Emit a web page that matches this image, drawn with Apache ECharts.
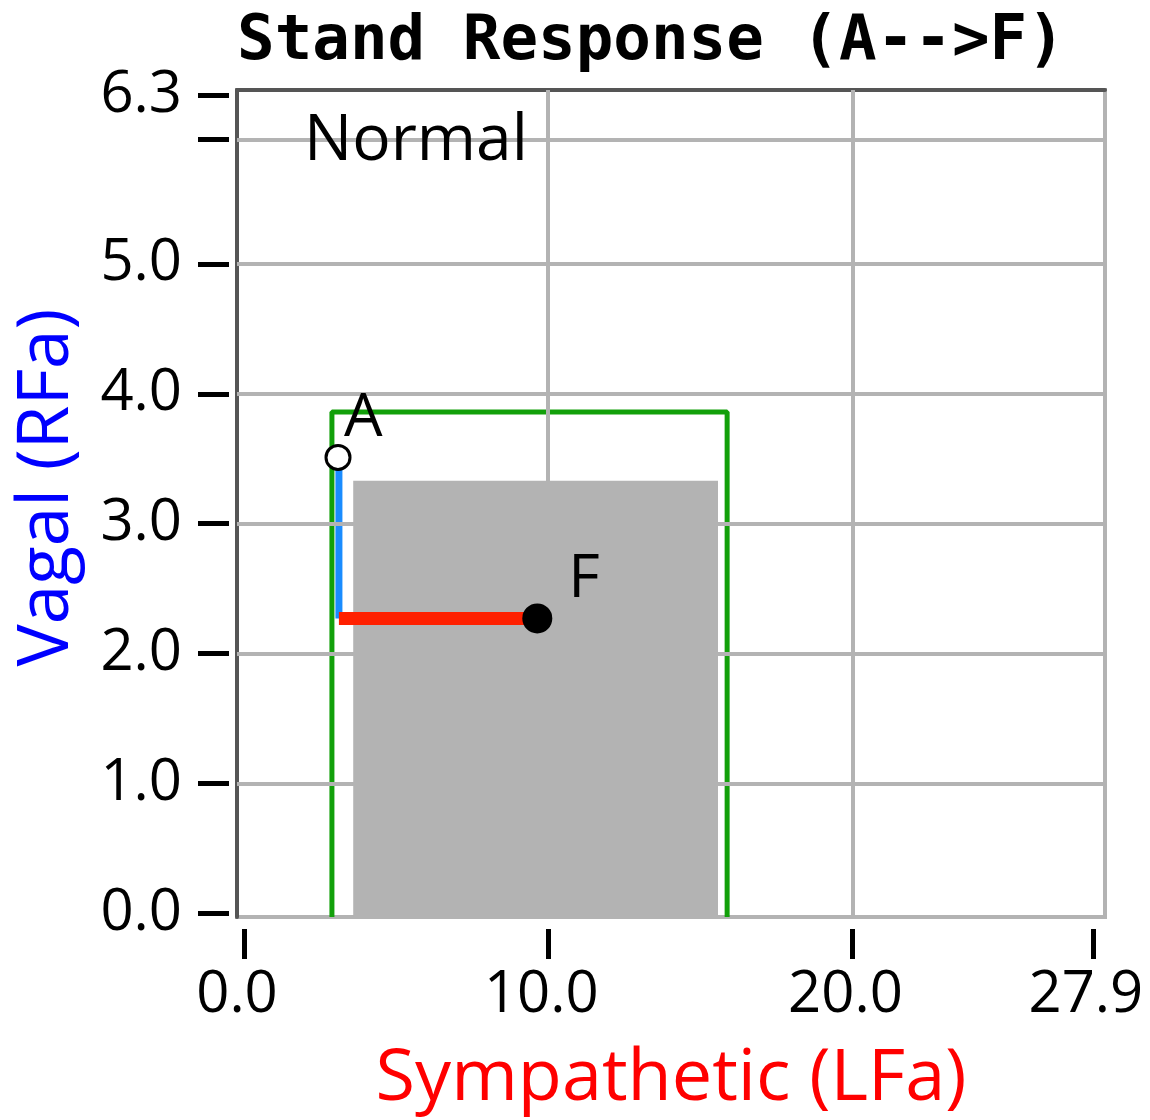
<!DOCTYPE html>
<html>
<head>
<meta charset="utf-8">
<script src="https://cdn.jsdelivr.net/npm/echarts@6/dist/echarts.min.js"></script>
<style>
html,body{margin:0;padding:0;background:#fff;}
#chart{width:1150px;height:1120px;}
</style>
</head>
<body>
<div id="chart"></div>
<script>
// ---- data ----
const xTicks = [0, 10, 20, 27.9];
const yTicks = [0, 1, 2, 3, 4, 5, 5.96, 6.3];
const yLabels = [0, 1, 2, 3, 4, 5, 6.3];
const xGrid = [10, 20];
const yGrid = [1, 2, 3, 4, 5, 5.96];
const grayBox = [[3.59, -0.03], [15.58, 3.33]];
const greenBox = [[2.89, -0.03], [2.89, 3.86], [15.88, 3.86], [15.88, -0.03]];
const pointA = [3.09, 3.51];
const pointF = [9.64, 2.27];
const vagalPath = [[3.12, 3.51], [3.12, 2.27]];
const sympPath = [[3.12, 2.27], [9.64, 2.27]];
const xRange = [-0.23, 28.3];
const yRange = [-0.03, 6.34];

const chart = echarts.init(document.getElementById('chart'));
const sans = '"Open Sans", "Noto Sans", sans-serif';
const hidden = {axisLine: {show: false}, axisTick: {show: false}, axisLabel: {show: false}, splitLine: {show: false}};
const option = {
  animation: false,
  backgroundColor: '#fff',
  title: {
    text: 'Stand Response (A-->F)',
    left: 232, top: 6,
    textStyle: {fontFamily: '"DejaVu Sans Mono", monospace', fontWeight: 'bold', fontSize: 62.5, color: '#000'}
  },
  grid: [
    {left: 237, right: 45, top: 90, bottom: 203, show: true, borderColor: '#b3b3b3', borderWidth: 4, backgroundColor: 'transparent'},
    {left: 229, right: 45, top: 90, bottom: 203, show: false},
    {left: 237, right: 45, top: 90, bottom: 191, show: false}
  ],
  xAxis: [
    Object.assign({type: 'value', min: xRange[0], max: xRange[1], gridIndex: 0, position: 'top'}, hidden,
      {axisLine: {show: true, onZero: false, lineStyle: {color: '#555', width: 4}}}),
    Object.assign({type: 'value', min: xRange[0], max: xRange[1], gridIndex: 1}, hidden),
    {
      type: 'value', min: xRange[0], max: xRange[1], gridIndex: 2, position: 'bottom',
      name: 'Sympathetic (LFa)', nameLocation: 'middle', nameGap: 114,
      nameTextStyle: {color: '#ff0000', fontSize: 72, fontFamily: sans},
      axisLine: {show: false, onZero: false},
      axisTick: {show: true, customValues: xTicks, length: 30, lineStyle: {color: '#000', width: 5}},
      axisLabel: {customValues: xTicks, formatter: v => v.toFixed(1), color: '#000', fontSize: 58, fontFamily: sans, margin: 37, padding: [0, 14, 0, 0]},
      splitLine: {show: false}
    }
  ],
  yAxis: [
    Object.assign({type: 'value', min: yRange[0], max: yRange[1], gridIndex: 0, position: 'left'}, hidden,
      {axisLine: {show: true, onZero: false, lineStyle: {color: '#555', width: 4}}}),
    {
      type: 'value', min: yRange[0], max: yRange[1], gridIndex: 1, position: 'left',
      name: 'Vagal (RFa)', nameLocation: 'middle', nameGap: 146, nameRotate: 90,
      nameTextStyle: {color: '#0000ff', fontSize: 71, fontFamily: sans, padding: [0, 0, 0, 32]},
      axisLine: {show: false, onZero: false},
      axisTick: {show: true, customValues: yTicks, length: 31, lineStyle: {color: '#000', width: 5}},
      axisLabel: {customValues: yLabels, formatter: v => v.toFixed(1), color: '#000', fontSize: 58, fontFamily: sans, margin: 47},
      splitLine: {show: false}
    },
    Object.assign({type: 'value', min: yRange[0], max: yRange[1], gridIndex: 2}, hidden)
  ],
  graphic: [
    {type: 'text', left: 304, top: 110, z: 50, style: {text: 'Normal', fontSize: 64, fontFamily: sans, fill: '#000'}}
  ],
  series: [
    {
      type: 'line', data: [], z: 1, silent: true,
      markLine: {
        silent: true, symbol: 'none', animation: false,
        label: {show: false},
        lineStyle: {color: '#b3b3b3', width: 4, type: 'solid'},
        data: xGrid.map(v => ({xAxis: v})).concat(yGrid.map(v => ({yAxis: v})))
      }
    },
    {
      type: 'line', data: [], z: 2, silent: true,
      markArea: {
        silent: true,
        itemStyle: {color: '#b3b3b3', opacity: 1},
        data: [[{coord: grayBox[0]}, {coord: grayBox[1]}]]
      }
    },
    {
      type: 'line', data: greenBox, z: 3, symbol: 'none', silent: true,
      lineStyle: {color: '#12a00a', width: 5}
    },
    {
      type: 'line', data: vagalPath, z: 4, symbol: 'none', silent: true,
      lineStyle: {color: '#1a8cff', width: 7, cap: 'butt'}
    },
    {
      type: 'line', data: sympPath, z: 4, symbol: 'none', silent: true,
      lineStyle: {color: '#ff2000', width: 13, cap: 'butt'}
    },
    {
      type: 'scatter', data: [pointA], z: 5, symbol: 'circle', symbolSize: 24,
      itemStyle: {color: '#fff', borderColor: '#000', borderWidth: 3, opacity: 1},
      label: {show: true, formatter: 'A', position: ['50%', '50%'], align: 'left', verticalAlign: 'bottom', offset: [6, -8], fontSize: 61, fontFamily: sans, color: '#000'}
    },
    {
      type: 'scatter', data: [pointF], z: 5, symbol: 'circle', symbolSize: 30,
      itemStyle: {color: '#000', opacity: 1},
      label: {show: true, formatter: 'F', position: ['50%', '50%'], align: 'left', verticalAlign: 'bottom', offset: [31, -8], fontSize: 61, fontFamily: sans, color: '#000'}
    }
  ]
};
chart.setOption(option);
</script>
</body>
</html>
